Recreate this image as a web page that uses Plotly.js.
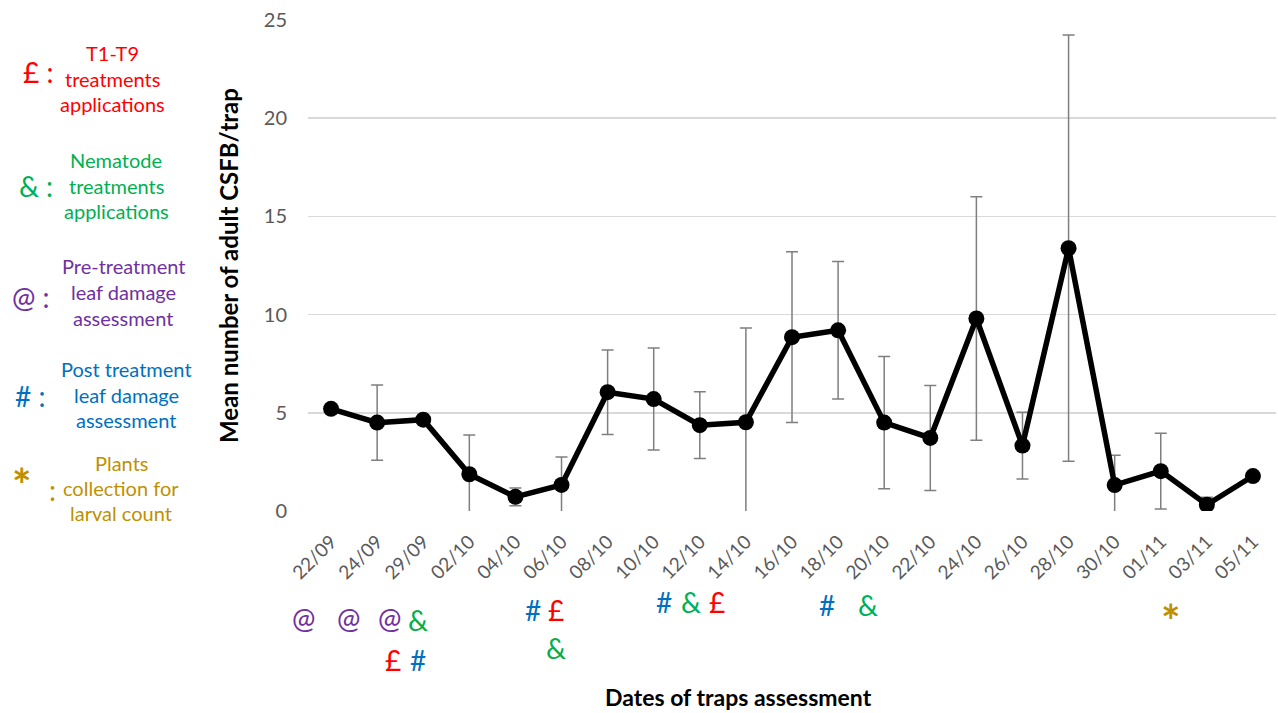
<!DOCTYPE html>
<html><head><meta charset="utf-8">
<script src="https://cdn.plot.ly/plotly-3.0.1.min.js"></script>
<style>html,body{margin:0;padding:0;background:#fff}#c{width:1278px;height:713px}</style>
</head><body><div id="c"></div>
<script>
// categories (dates of trap assessment)
const categories = ["22/09","24/09","29/09","02/10","04/10","06/10","08/10","10/10","12/10","14/10","16/10","18/10","20/10","22/10","24/10","26/10","28/10","30/10","01/11","03/11","05/11"];
// mean number of adult CSFB per trap
const meanAdults = [5.2,4.5,4.65,1.87,0.72,1.33,6.05,5.7,4.37,4.52,8.85,9.2,4.5,3.72,9.8,3.33,13.38,1.32,2.03,0.32,1.78];
// symmetric error (+/-)
const errPlusMinus = [0,1.92,0,2.0,0.45,1.42,2.15,2.6,1.7,4.8,4.35,3.5,3.37,2.67,6.2,1.7,10.85,1.52,1.93,0.38,0];

const W=1278,H=713,L=308,R=1276,T=20,B=511;
const px = x => (x-L)/(R-L);
const py = y => (B-y)/(B-T);

const RED="#FF0000",GREEN="#00B050",PURPLE="#7030A0",BLUE="#0070C0",GOLD="#BF9000";
const FONT="Lato, 'Liberation Sans', sans-serif";

const ann=[];
function a(text,x,y,color,size,extra){ann.push(Object.assign({text:text,x:px(x),y:py(y),xref:'paper',yref:'paper',showarrow:false,xanchor:'center',yanchor:'middle',font:{family:FONT,size:size,color:color}},extra||{}));}

// legend
const legend=[
 {sym:"£ :",color:RED,sx:38,sy:72,lines:["T1-T9","treatments","applications"],cx:112,ys:[53,79,104]},
 {sym:"& :",color:GREEN,sx:36,sy:186,lines:["Nematode","treatments","applications"],cx:116,ys:[160,186,211]},
 {sym:"@ :",color:PURPLE,sx:31,sy:297,lines:["Pre-treatment","leaf damage","assessment"],cx:123,ys:[266,292,318]},
 {sym:"# :",color:BLUE,sx:30,sy:396,lines:["Post treatment","leaf damage","assessment"],cx:126,ys:[369,395,420]},
];
legend.forEach(g=>{
  a(g.sym,g.sx,g.sy,g.color,28);
  g.lines.forEach((t,i)=>a(t,g.cx,g.ys[i],g.color,20));
});
a("<b>*</b>",22,484,GOLD,46);
a(":",52,490,GOLD,28);
["Plants","collection for","larval count"].forEach((t,i)=>a(t,121,[463,488,513][i],GOLD,20));

// event markers under the axis
const marks=[
 ["@",303,618,PURPLE],["@",348,618,PURPLE],["@",389,618,PURPLE],["&",418,620,GREEN],
 ["£",393,660,RED],["#",418,660,BLUE],
 ["#",533,610,BLUE],["£",556,610,RED],["&",556,648,GREEN],
 ["#",664,602,BLUE],["&",691,602,GREEN],["£",717,602,RED],
 ["#",827,605,BLUE],["&",868,605,GREEN],
];
marks.forEach(m=>a(m[0],m[1],m[2],m[3],28));
a("<b>*</b>",1171,620,GOLD,46);

// x-axis title placed as in the reference (not centred on plot)
a("<b>Dates of traps assessment</b>",738,697,"#000",23);

const trace={
  x:categories,y:meanAdults,type:'scatter',mode:'lines+markers',
  line:{color:'#000',width:5.5},
  marker:{color:'#000',size:16},
  error_y:{type:'data',array:errPlusMinus,visible:true,color:'#7F7F7F',thickness:1.5,width:6},
  cliponaxis:true,hoverinfo:'skip'
};

const layout={
  width:W,height:H,margin:{l:L,r:W-R,t:T,b:H-B},
  paper_bgcolor:'#fff',plot_bgcolor:'#fff',showlegend:false,
  font:{family:FONT,color:'#595959'},
  xaxis:{type:'category',range:[-0.5,categories.length-0.5],tickangle:-45,tickfont:{size:19,color:'#595959'},
    showgrid:false,zeroline:false,showline:false,ticks:'',ticklabelstandoff:15},
  yaxis:{range:[0,25],dtick:5,tickfont:{size:20,color:'#595959'},gridcolor:'#D9D9D9',gridwidth:1.5,
    zeroline:false,showline:false,ticks:'',ticklabelstandoff:20,
    title:{text:'<b>Mean number of adult CSFB/trap</b>',font:{size:24,color:'#000'},standoff:18}},
  annotations:ann
};
Plotly.newPlot('c',[trace],layout,{staticPlot:true});
</script>
</body></html>
